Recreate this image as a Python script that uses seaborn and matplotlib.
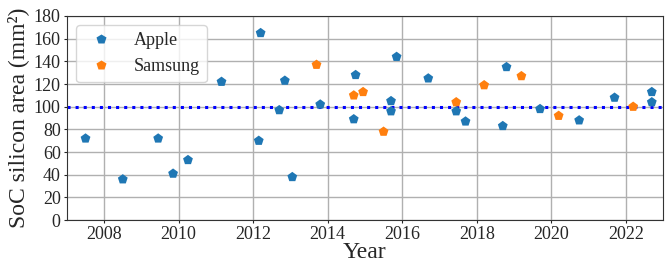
import matplotlib
matplotlib.use("Agg")
import matplotlib.pyplot as plt
import pandas as pd
import seaborn as sns

# values
apple_year = [2007.5, 2008.5, 2009.45, 2009.85, 2010.25, 2011.15, 2012.15, 2012.2,
              2012.7, 2012.85, 2013.05, 2013.8, 2014.7, 2014.75, 2015.7, 2015.7,
              2015.85, 2016.7, 2017.45, 2017.7, 2018.7, 2018.8, 2019.7, 2020.75,
              2021.7, 2022.7, 2022.7]
apple_area = [72, 36, 72, 41, 53, 122, 70, 165, 97, 123, 38, 102, 89, 128, 105, 96,
              144, 125, 96, 87, 83, 135, 98, 88, 108, 104, 113]
samsung_year = [2013.7, 2014.7, 2014.95, 2015.5, 2017.45, 2018.2, 2019.2, 2020.2, 2022.2]
samsung_area = [137, 110, 113, 78, 104, 119, 127, 92, 100]
reference_area = 100

df = pd.concat([
    pd.DataFrame({"Year": apple_year, "Area": apple_area, "Vendor": "Apple"}),
    pd.DataFrame({"Year": samsung_year, "Area": samsung_area, "Vendor": "Samsung"}),
])

sns.set_style("ticks")
plt.rcParams["font.family"] = ["Liberation Serif", "DejaVu Serif"]

fig = plt.figure(figsize=(6.69, 2.62), dpi=100)
ax = fig.add_axes([0.100, 0.160, 0.891, 0.779])

sns.scatterplot(data=df, x="Year", y="Area", hue="Vendor", marker="p", s=55,
                palette=["tab:blue", "tab:orange"], edgecolor="none", ax=ax, zorder=3)
ax.axhline(reference_area, color="blue", linestyle=":", linewidth=2.2, zorder=2)

ax.set_xlim(2007, 2023)
ax.set_ylim(0, 180)
ax.set_xticks(range(2008, 2023, 2))
ax.set_yticks(range(0, 181, 20))
ax.grid(True, color="#b0b0b0", linewidth=1.0)
ax.tick_params(labelsize=13, length=2.5, pad=2)
ax.set_xlabel("Year", fontsize=17, labelpad=-1)
ax.set_ylabel("SoC silicon area (mm²)", fontsize=17, labelpad=3)
for sp in ax.spines.values():
    sp.set_color("#333333")

ax.legend(loc="upper left", fontsize=13)

fig.savefig("out.png", dpi=100)
